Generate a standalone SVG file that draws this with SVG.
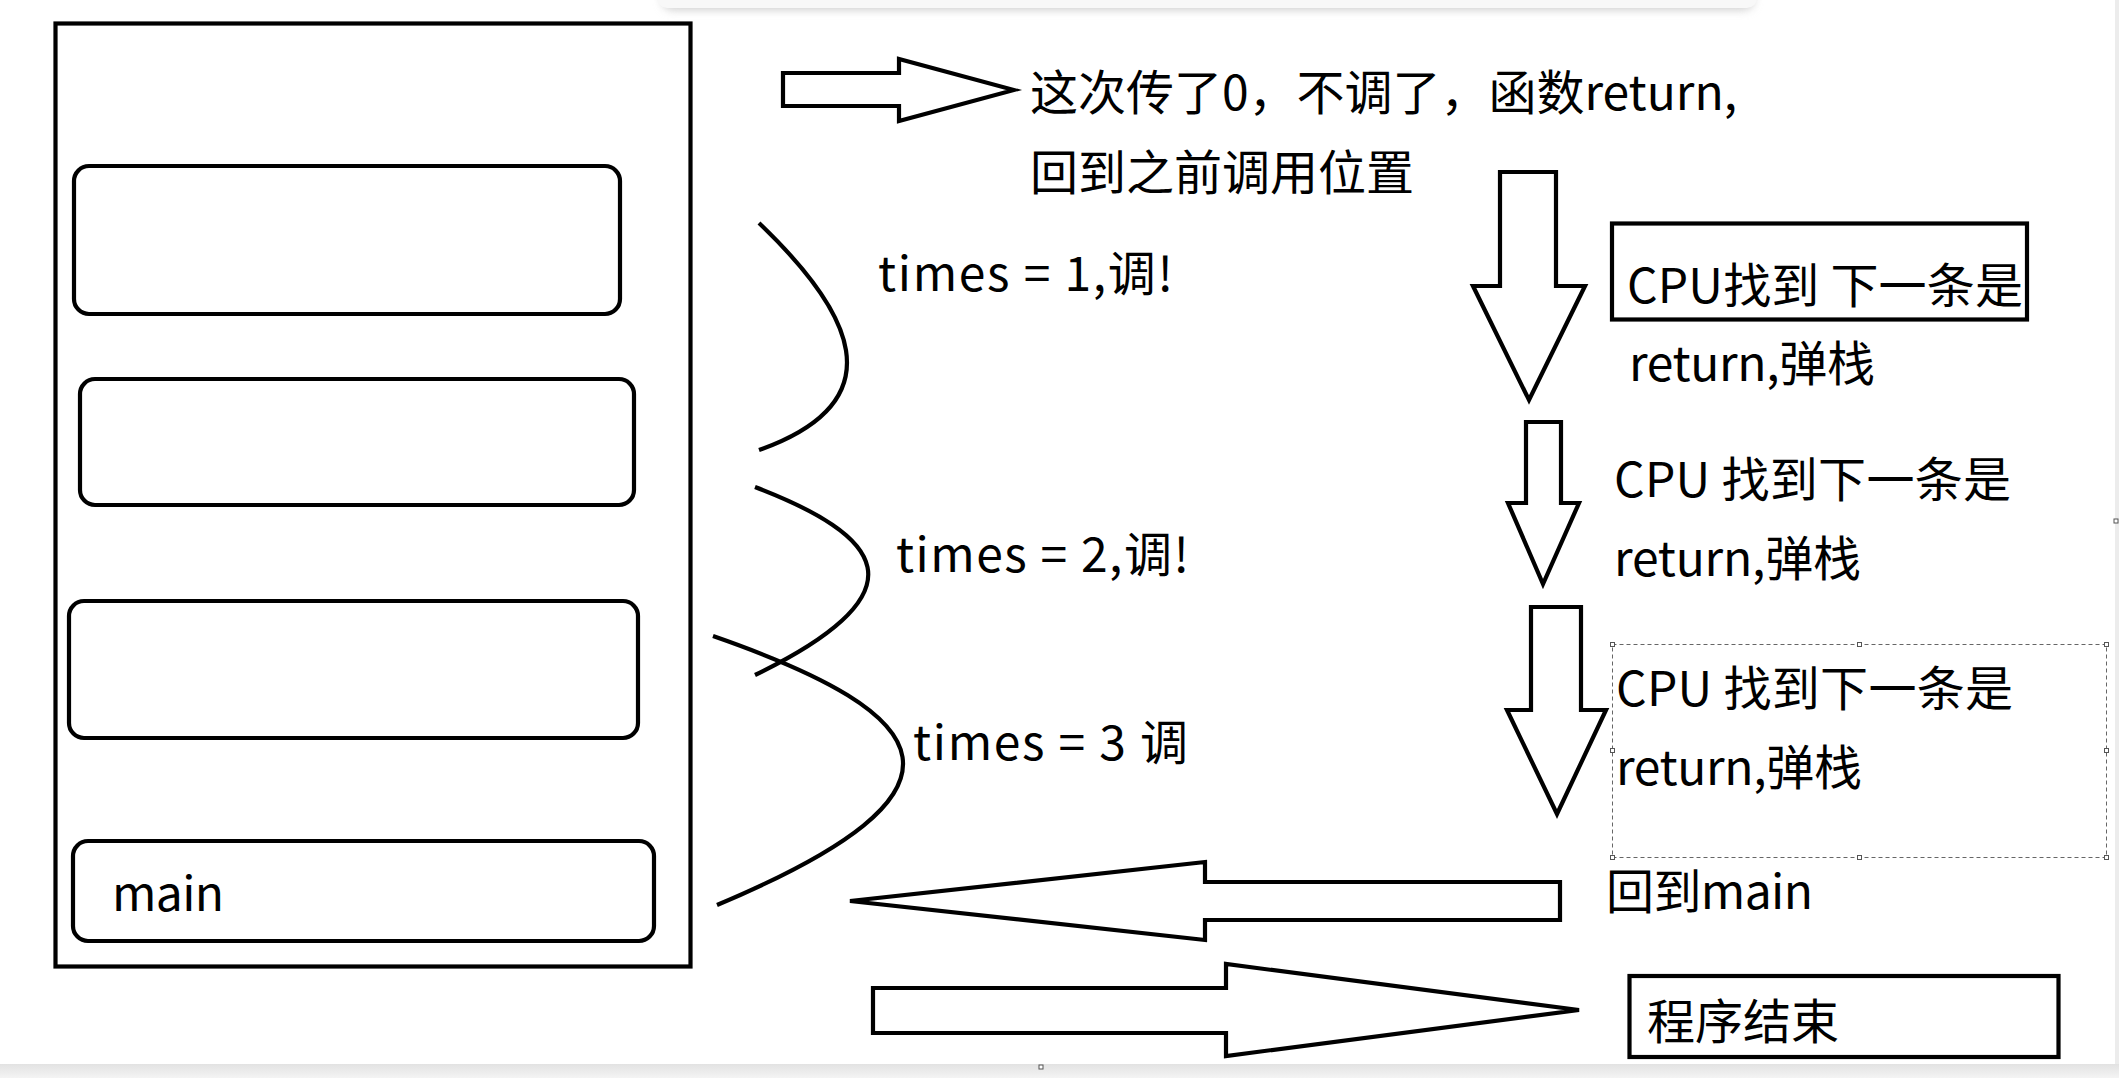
<svg xmlns="http://www.w3.org/2000/svg" width="2119" height="1078" viewBox="0 0 2119 1078">
<defs>
<linearGradient id="band" x1="0" y1="0" x2="0" y2="1"><stop offset="0" stop-color="#e2e2e2"/><stop offset="1" stop-color="#f4f4f4"/></linearGradient>
<filter id="sh" x="-5%" y="-100%" width="110%" height="300%"><feGaussianBlur stdDeviation="4"/></filter>
</defs>
<style>
.t{font-family:"Microsoft YaHei","Noto Sans CJK SC","Noto Sans",sans-serif;font-size:48px;fill:#000}
.s{fill:none;stroke:#000;stroke-width:4.2}
.a{fill:#fff;stroke:#000;stroke-width:4.2;stroke-linejoin:miter}
.r{fill:#fff;stroke:#000;stroke-width:4.2}
.h{fill:#fff;stroke:#555;stroke-width:1}
</style>
<rect width="2119" height="1078" fill="#fff"/>
<rect x="662" y="-14" width="1092" height="24" rx="10" fill="#cfcfcf" filter="url(#sh)"/>
<rect x="657" y="-14" width="1100" height="22" rx="10" fill="#f8f8f8"/>
<rect x="0" y="1064" width="2119" height="14" fill="url(#band)"/>
<rect x="2115" y="0" width="4" height="1064" fill="#ececec"/>
<rect x="1039" y="1065" width="4" height="4" class="h"/>
<rect x="2114" y="519" width="4" height="4" class="h"/>

<g id="stack">
<rect x="55.5" y="23.5" width="635" height="943" class="s"/>
</g>
<g id="frame1"><rect x="74" y="166" width="546" height="148" rx="15" class="r"/></g>
<g id="frame2"><rect x="80" y="379" width="554" height="126" rx="15" class="r"/></g>
<g id="frame3"><rect x="69" y="601" width="569" height="137" rx="15" class="r"/></g>
<g id="frame-main"><rect x="73" y="841" width="581" height="100" rx="15" class="r"/>
<text class="t" x="112" y="911" textLength="112">main</text></g>

<g id="connectors">
<path class="s" d="M759,223 C850,310 900,400 759,450"/>
<path class="s" d="M755,487 C880,535 930,590 755,675"/>
<path class="s" d="M713,636 C940,715 990,790 717,905"/>
<polygon class="a" points="783,73 899,73 899,59 1014,90 899,121 899,106 783,106"/>
<polygon class="a" points="1500,172 1556,172 1556,286 1585,286 1529,400 1473,286 1500,286"/>
<polygon class="a" points="1526,422 1561,422 1561,503 1579,503 1543,584 1508,503 1526,503"/>
<polygon class="a" points="1531,607 1581,607 1581,710 1606,710 1557,814 1507,710 1531,710"/>
<polygon class="a" points="850,901 1205,862 1205,882 1560,882 1560,920 1205,920 1205,940"/>
<polygon class="a" points="873,988 1226,988 1226,964 1579,1010 1226,1056 1226,1033 873,1033"/>
</g>

<g id="note-top">
<text class="t" x="1030" y="110" textLength="707">这次传了0，不调了，函数return,</text>
<text class="t" x="1030" y="190">回到之前调用位置</text>
</g>
<g id="label-times1"><text class="t" x="878" y="291" textLength="295">times = 1,调!</text></g>
<g id="label-times2"><text class="t" x="896" y="572" textLength="293">times = 2,调!</text></g>
<g id="label-times3"><text class="t" x="913" y="760" textLength="275">times = 3 调</text></g>

<g id="note-cpu1">
<rect x="1612" y="223.5" width="415" height="96" class="s"/>
<text class="t" x="1627" y="303" textLength="396">CPU找到 下一条是</text>
<text class="t" x="1629" y="381" textLength="246">return,弹栈</text>
</g>
<g id="note-cpu2">
<text class="t" x="1614" y="497" textLength="397">CPU 找到下一条是</text>
<text class="t" x="1614" y="576" textLength="247">return,弹栈</text>
</g>
<g id="note-cpu3">
<rect x="1612.5" y="644.5" width="494" height="213" fill="none" stroke="#666" stroke-width="1" stroke-dasharray="4 3"/>
<rect x="1610.5" y="642.5" width="4" height="4" class="h"/>
<rect x="1857.5" y="642.5" width="4" height="4" class="h"/>
<rect x="2104.5" y="642.5" width="4" height="4" class="h"/>
<rect x="1610.5" y="748.5" width="4" height="4" class="h"/>
<rect x="2104.5" y="748.5" width="4" height="4" class="h"/>
<rect x="1610.5" y="855.5" width="4" height="4" class="h"/>
<rect x="1857.5" y="855.5" width="4" height="4" class="h"/>
<rect x="2104.5" y="855.5" width="4" height="4" class="h"/>
<text class="t" x="1616" y="706" textLength="397">CPU 找到下一条是</text>
<text class="t" x="1616" y="785" textLength="246">return,弹栈</text>
</g>
<g id="note-main"><text class="t" x="1606" y="909" textLength="207">回到main</text></g>
<g id="note-end">
<rect x="1629.5" y="976" width="429" height="81" class="s"/>
<text class="t" x="1647" y="1039">程序结束</text>
</g>
</svg>
